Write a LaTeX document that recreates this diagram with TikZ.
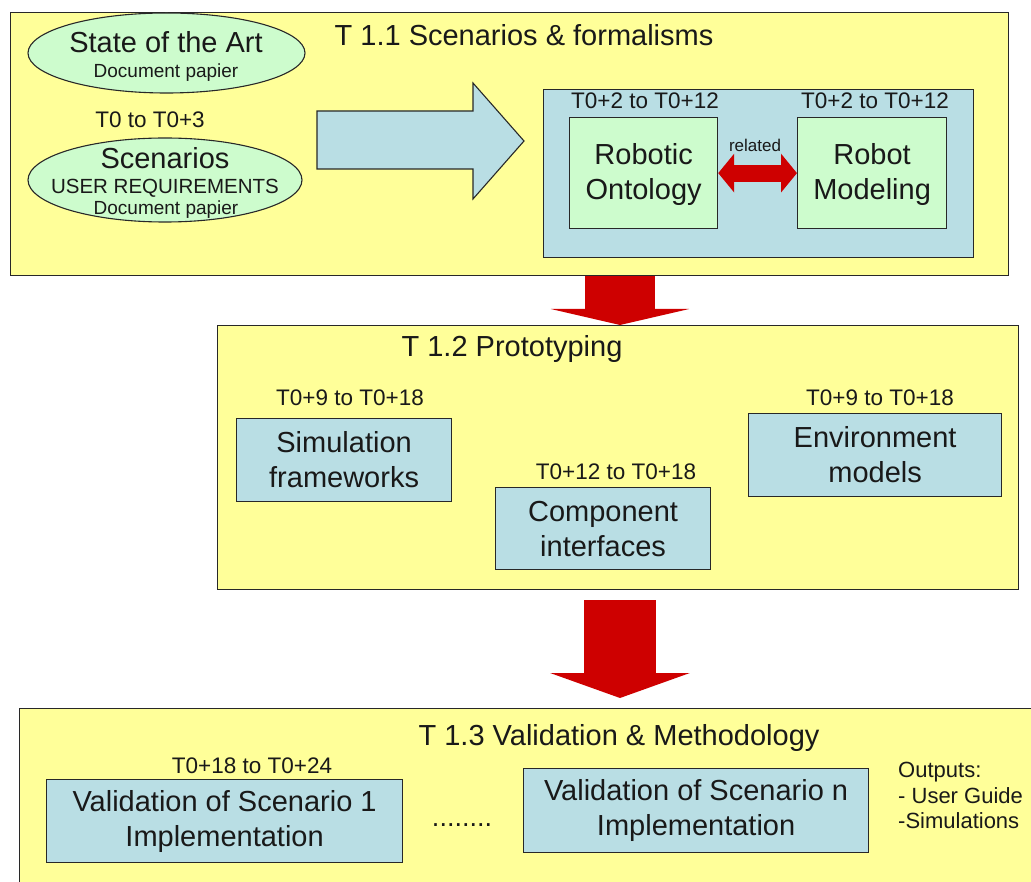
\documentclass[tikz,border=0pt]{standalone}
\usepackage{fontspec}
\setmainfont{Liberation Sans}
\usetikzlibrary{shapes.geometric,arrows.meta}
\definecolor{paleyellow}{RGB}{255,255,153}
\definecolor{paleblue}{RGB}{185,222,228}
\definecolor{palegreen}{RGB}{205,252,205}
\definecolor{arrowred}{RGB}{206,0,0}
\definecolor{edge}{RGB}{40,40,40}
\definecolor{ink}{RGB}{25,25,25}
\tikzset{
  taskbox/.style={draw=edge, line width=1.4pt, fill=paleyellow, inner sep=0pt, anchor=north west},
  groupbox/.style={draw=edge, line width=1.2pt, fill=paleblue, inner sep=0pt, anchor=north west},
  workbox/.style={draw=edge, line width=1.2pt, fill=paleblue, inner sep=0pt, anchor=north west,
    align=center, text=ink, font=\fontsize{29}{35}\selectfont},
  greenbox/.style={workbox, fill=palegreen},
  doc/.style={ellipse, draw=edge, line width=1.1pt, fill=palegreen, inner sep=0pt},
  title/.style={anchor=base, inner sep=0pt, text=ink, font=\fontsize{29}{34}\selectfont},
  bigtxt/.style={anchor=base, inner sep=0pt, text=ink, font=\fontsize{29}{34}\selectfont},
  midtxt/.style={anchor=base, inner sep=0pt, text=ink, font=\fontsize{20.5}{24}\selectfont},
  smalltxt/.style={anchor=base, inner sep=0pt, text=ink, font=\fontsize{19}{22}\selectfont},
  timing/.style={anchor=base, inner sep=0pt, text=ink, font=\fontsize{22.5}{26}\selectfont},
  redflow/.style={draw=arrowred, line width=#1},
}
\begin{document}
\begin{tikzpicture}[x=1pt,y=-1pt]
\useasboundingbox (0,0) rectangle (1031,882);
\clip (0,0) rectangle (1031,882);
\fill[white] (0,0) rectangle (1031,882);

% ---------------- T 1.1 ----------------
\node[taskbox, minimum width=998pt, minimum height=263pt] (t11) at (10,12) {};
\node[title] (t11title) at (524,46) {T 1.1 Scenarios \& formalisms};

\node[doc, minimum width=277pt, minimum height=80pt] (art) at (166.5,53) {};
\node[bigtxt] (arttxt) at (166,53) {State of the Art};
\node[smalltxt] (artdoc) at (166,78) {Document papier};

\node[timing] (scentime) at (150,128) {T0 to T0+3};
\node[doc, minimum width=274pt, minimum height=84pt] (scen) at (165,180) {};
\node[bigtxt] (scentxt) at (165,169) {Scenarios};
\node[midtxt] (scenreq) at (165,194) {USER REQUIREMENTS};
\node[smalltxt] (scendoc) at (166,215) {Document papier};

% block arrow towards the formalism group
\draw[draw=edge, line width=1.1pt, fill=paleblue, line join=miter]
  (317,111) -- (473,111) -- (473,83) -- (524,141) -- (473,199) -- (473,169) -- (317,169) -- cycle;

\node[groupbox, minimum width=430pt, minimum height=168pt] (formal) at (543,89) {};
\node[timing] (ontotime) at (645,109) {T0+2 to T0+12};
\node[timing] (modtime) at (875,109) {T0+2 to T0+12};
\node[greenbox, minimum width=148pt, minimum height=111pt, text depth=4pt] (onto) at (569,117) {Robotic\\Ontology};
\node[greenbox, minimum width=149pt, minimum height=111pt, text depth=4pt] (model) at (797,117) {Robot\\Modeling};
\draw[redflow=17pt, {Triangle[length=16pt,width=38pt]}-{Triangle[length=16pt,width=38pt]}]
  (onto.east) -- (model.west);
\node[anchor=base, inner sep=0pt, text=ink, font=\fontsize{17}{20}\selectfont] (rel) at (755,152) {related};

% ---------------- T 1.2 ----------------
\coordinate (axis) at (620,0);
\node[taskbox, minimum width=801pt, minimum height=264pt] (t12) at (217,325) {};
\draw[redflow=70pt, -{Triangle[length=16pt,width=138pt]}] (t11.south -| axis) -- (t12.north -| axis);
\node[title] (t12title) at (512,357) {T 1.2 Prototyping};

\node[timing] (simtime) at (350,406) {T0+9 to T0+18};
\node[workbox, minimum width=215pt, minimum height=83pt] (sim) at (236,418) {Simulation\\frameworks};
\node[timing] (comptime) at (616,479) {T0+12 to T0+18};
\node[workbox, minimum width=215pt, minimum height=82pt] (comp) at (495,487) {Component\\interfaces};
\node[timing] (envtime) at (880,406) {T0+9 to T0+18};
\node[workbox, minimum width=253pt, minimum height=83pt] (env) at (748,413) {Environment\\models};

% ---------------- T 1.3 ----------------
\node[taskbox, minimum width=1030pt, minimum height=200pt] (t13) at (19,708) {};
\draw[redflow=72pt, -{Triangle[length=25pt,width=139pt]}]
  ([yshift=-10pt]t12.south -| axis) -- ([yshift=10pt]t13.north -| axis);
\node[title] (t13title) at (619,745) {T 1.3 Validation \& Methodology};

\node[timing] (valtime) at (252,773) {T0+18 to T0+24};
\node[workbox, minimum width=356pt, minimum height=83pt] (val1) at (46,779) {Validation of Scenario 1\\Implementation};
\node[anchor=base, inner sep=0pt, text=ink, font=\fontsize{27}{30}\selectfont] (dots) at (462,826) {........};
\node[workbox, minimum width=345pt, minimum height=84pt] (valn) at (523,768) {Validation of Scenario n\\Implementation};
\node[anchor=north west, inner sep=0pt, align=left, text=ink, font=\fontsize{22}{25.5}\selectfont] (outs) at (898,762)
  {Outputs:\\- User Guide\\-Simulations};
\end{tikzpicture}
\end{document}
